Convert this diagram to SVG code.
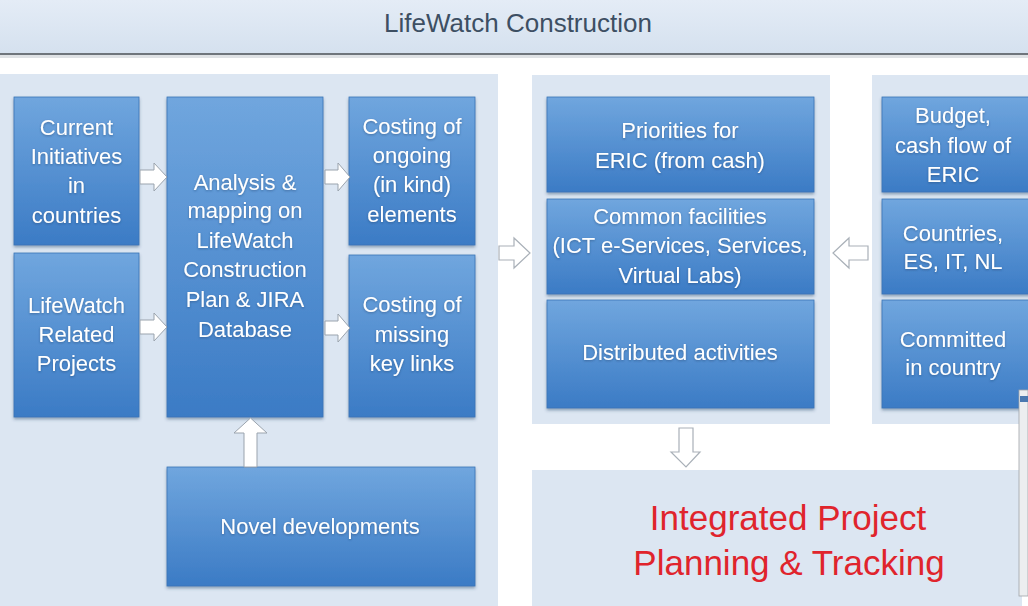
<svg xmlns="http://www.w3.org/2000/svg" width="1028" height="606" viewBox="0 0 1028 606">
<defs>
<linearGradient id="boxg" x1="0" y1="0" x2="0" y2="1">
<stop offset="0" stop-color="#70a6de"/>
<stop offset="1" stop-color="#3b7bc5"/>
</linearGradient>
<linearGradient id="hdr" x1="0" y1="0" x2="0" y2="1">
<stop offset="0" stop-color="#e4ecf6"/>
<stop offset="1" stop-color="#d5e1ef"/>
</linearGradient>
<filter id="sh" x="-10%" y="-10%" width="120%" height="125%">
<feDropShadow dx="0" dy="2" stdDeviation="1.5" flood-color="#2a4a70" flood-opacity="0.45"/>
</filter>
<filter id="tsh" x="-5%" y="-20%" width="110%" height="150%">
<feDropShadow dx="0" dy="1" stdDeviation="0.8" flood-color="#1d3f6a" flood-opacity="0.5"/>
</filter>
<style>
.panel{fill:#dce6f2}
.box{fill:url(#boxg);stroke:#3b74b6;stroke-width:0.8;filter:url(#sh)}
.t{font-family:"Liberation Sans",Arial,sans-serif;font-size:22px;fill:#ffffff;text-anchor:middle;filter:url(#tsh)}
.arw{fill:#ffffff;stroke:#9aa3ad;stroke-width:1}
.arwo{fill:#ffffff;stroke:#a9b0b8;stroke-width:1.2}
.red{font-family:"Liberation Sans",Arial,sans-serif;font-size:35px;fill:#e0242c;text-anchor:middle}
</style>
</defs>
<rect x="0" y="0" width="1028" height="606" fill="#ffffff"/>
<!-- header -->
<g id="header">
<rect x="0" y="0" width="1028" height="53" fill="url(#hdr)"/>
<rect x="0" y="53" width="1028" height="2" fill="#6f757c"/>
<rect x="0" y="55" width="1028" height="3" fill="#c9ced4" opacity="0.6"/>
<text x="518" y="32" font-family="Liberation Sans, Arial, sans-serif" font-size="26" fill="#3d4f63" text-anchor="middle">LifeWatch Construction</text>
</g>
<!-- panels -->
<g id="panels">
<rect class="panel" x="0" y="74" width="498" height="532"/>
<rect class="panel" x="532" y="75" width="298" height="349"/>
<rect class="panel" x="872" y="75" width="156" height="349"/>
<rect class="panel" x="532" y="470" width="490" height="136"/>
</g>
<!-- nodes -->
<g id="n-current">
<rect class="box" x="14" y="97" width="125" height="148"/>
<text class="t" x="76.5" y="135">Current</text>
<text class="t" x="76.5" y="164">Initiatives</text>
<text class="t" x="76.5" y="193">in</text>
<text class="t" x="76.5" y="223">countries</text>
</g>
<g id="n-related">
<rect class="box" x="14" y="253" width="125" height="164"/>
<text class="t" x="76.5" y="313">LifeWatch</text>
<text class="t" x="76.5" y="342">Related</text>
<text class="t" x="76.5" y="371">Projects</text>
</g>
<g id="n-analysis">
<rect class="box" x="167" y="97" width="156" height="320"/>
<text class="t" x="245" y="190">Analysis &amp;</text>
<text class="t" x="245" y="218">mapping on</text>
<text class="t" x="245" y="248">LifeWatch</text>
<text class="t" x="245" y="277">Construction</text>
<text class="t" x="245" y="307">Plan &amp; JIRA</text>
<text class="t" x="245" y="337">Database</text>
</g>
<g id="n-ongoing">
<rect class="box" x="349" y="97" width="126" height="148"/>
<text class="t" x="412" y="134">Costing of</text>
<text class="t" x="412" y="163">ongoing</text>
<text class="t" x="412" y="192">(in kind)</text>
<text class="t" x="412" y="222">elements</text>
</g>
<g id="n-missing">
<rect class="box" x="349" y="255" width="126" height="162"/>
<text class="t" x="412" y="312">Costing of</text>
<text class="t" x="412" y="342">missing</text>
<text class="t" x="412" y="371">key links</text>
</g>
<g id="n-novel">
<rect class="box" x="167" y="467" width="308" height="119"/>
<text class="t" x="320" y="534">Novel developments</text>
</g>
<g id="n-priorities">
<rect class="box" x="547" y="97" width="267" height="95"/>
<text class="t" x="680" y="138">Priorities for</text>
<text class="t" x="680" y="168">ERIC (from cash)</text>
</g>
<g id="n-common">
<rect class="box" x="547" y="199" width="267" height="95"/>
<text class="t" x="680" y="224">Common facilities</text>
<text class="t" x="680" y="253" font-size="21">(ICT e-Services, Services,</text>
<text class="t" x="680" y="283">Virtual Labs)</text>
</g>
<g id="n-distributed">
<rect class="box" x="547" y="300" width="267" height="108"/>
<text class="t" x="680" y="360">Distributed activities</text>
</g>
<g id="n-budget">
<rect class="box" x="882" y="97" width="150" height="95"/>
<text class="t" x="953" y="123">Budget,</text>
<text class="t" x="953" y="153">cash flow of</text>
<text class="t" x="953" y="182">ERIC</text>
</g>
<g id="n-countries">
<rect class="box" x="882" y="199" width="150" height="95"/>
<text class="t" x="953" y="241">Countries,</text>
<text class="t" x="953" y="269">ES, IT, NL</text>
</g>
<g id="n-committed">
<rect class="box" x="882" y="300" width="150" height="108"/>
<text class="t" x="953" y="347">Committed</text>
<text class="t" x="953" y="375">in country</text>
</g>
<g id="n-integrated">
<text class="red" x="788" y="530">Integrated Project</text>
<text class="red" x="789" y="575">Planning &amp; Tracking</text>
</g>
<!-- connectors -->
<g id="connectors">
<path class="arw" d="M140,170 H154 V163 L167,177 L154,191 V184 H140 Z"/>
<path class="arw" d="M140,320 H154 V313 L167,327 L154,341 V334 H140 Z"/>
<path class="arw" d="M325,170 H338 V163 L350,177 L338,191 V184 H325 Z"/>
<path class="arw" d="M325,321 H338 V314 L350,328 L338,342 V335 H325 Z"/>
<path class="arw" d="M244,467 V433 H234 L250.5,418 L267,433 H257 V467 Z"/>
<path class="arwo" d="M499,246 H514 V238 L530,253 L514,268 V260 H499 Z"/>
<path class="arwo" d="M868,246 H849 V238 L833,253 L849,268 V260 H868 Z"/>
<path class="arwo" d="M679,428 H693 V452 H700 L686,467 L671,452 H679 Z"/>
</g>
<!-- screenshot remnant at right edge -->
<g id="edge">
<rect x="1019" y="390" width="9" height="206" fill="#eceef0" stroke="#a0a4a8" stroke-width="0.8"/>
<rect x="1020" y="396" width="8" height="6" fill="#4a78b0"/>
</g>
</svg>
